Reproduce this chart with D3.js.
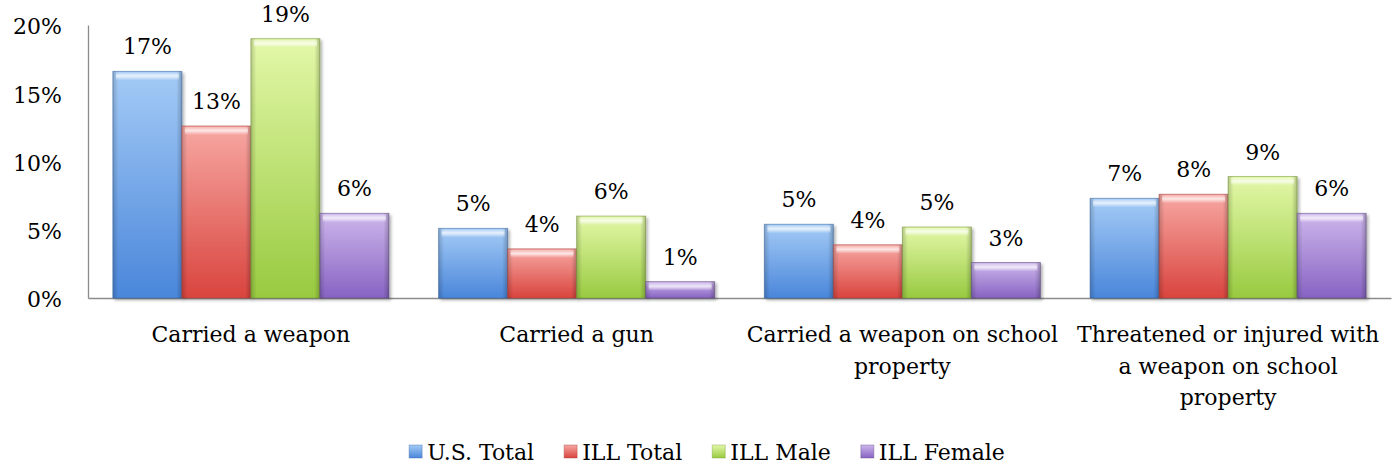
<html>
<head>
<meta charset="utf-8">
<title>weapon chart</title>
<style>
  body { margin: 0; background: #fff; }
  svg { display: block; }
  text { font-family: "DejaVu Serif", serif; fill: #000; }
</style>
<script src="https://cdnjs.cloudflare.com/ajax/libs/d3/7.8.5/d3.min.js"></script>
</head>
<body>
<svg></svg>
<script>
// data
const categories = ['Carried a weapon', 'Carried a gun', 'Carried a weapon on school property', 'Threatened or injured with a weapon on school property'];
const categoryLines = [
  ['Carried a weapon'],
  ['Carried a gun'],
  ['Carried a weapon on school', 'property'],
  ['Threatened or injured with', 'a weapon on school', 'property']
];
const series = ['U.S. Total', 'ILL Total', 'ILL Male', 'ILL Female'];
const usTotal = [16.6, 5.1, 5.4, 7.3];
const illTotal = [12.6, 3.6, 3.9, 7.6];
const illMale = [19.0, 6.0, 5.2, 8.9];
const illFemale = [6.2, 1.2, 2.6, 6.2];
const yTicks = [0, 5, 10, 15, 20];

const colors = {
  'U.S. Total': ['#a4cbf6', '#4a86da'],
  'ILL Total': ['#f7a7a2', '#d9443e'],
  'ILL Male': ['#e3f8a8', '#98ca40'],
  'ILL Female': ['#cdb6ec', '#8763c2']
};
const edge = { 'U.S. Total': '#3b6aa8', 'ILL Total': '#a8413c', 'ILL Male': '#77993a', 'ILL Female': '#5e4a82' };

const values = [usTotal, illTotal, illMale, illFemale];
const data = categories.map((c, i) => ({
  cat: c, i,
  values: series.map((s, j) => ({ key: s, value: values[j][i] }))
}));

const width = 1394, height = 465;
const margin = { left: 88, right: 3, top: 25 };
const baseY = 298;

const svg = d3.select('svg').attr('width', width).attr('height', height);
const defs = svg.append('defs');

series.forEach((s, j) => {
  const g = defs.append('linearGradient').attr('id', 'v' + j).attr('x1', 0).attr('y1', 0).attr('x2', 0).attr('y2', 1);
  g.append('stop').attr('offset', '0%').attr('stop-color', colors[s][0]);
  g.append('stop').attr('offset', '100%').attr('stop-color', colors[s][1]);
});
const hg = defs.append('linearGradient').attr('id', 'hEdge').attr('x1', 0).attr('y1', 0).attr('x2', 1).attr('y2', 0);
hg.append('stop').attr('offset', '0%').attr('stop-color', '#000').attr('stop-opacity', 0.18);
hg.append('stop').attr('offset', '8%').attr('stop-color', '#000').attr('stop-opacity', 0.0);
hg.append('stop').attr('offset', '92%').attr('stop-color', '#000').attr('stop-opacity', 0.0);
hg.append('stop').attr('offset', '100%').attr('stop-color', '#000').attr('stop-opacity', 0.22);
const tg = defs.append('linearGradient').attr('id', 'topHi').attr('x1', 0).attr('y1', 0).attr('x2', 0).attr('y2', 1);
tg.append('stop').attr('offset', '0%').attr('stop-color', '#fff').attr('stop-opacity', 0.2);
tg.append('stop').attr('offset', '45%').attr('stop-color', '#fff').attr('stop-opacity', 0.75);
tg.append('stop').attr('offset', '100%').attr('stop-color', '#fff').attr('stop-opacity', 0);
const sh = defs.append('filter').attr('id', 'shadow').attr('x', '-10%').attr('y', '-10%').attr('width', '130%').attr('height', '130%');
sh.append('feDropShadow').attr('dx', 2).attr('dy', 2).attr('stdDeviation', 1.5).attr('flood-color', '#000').attr('flood-opacity', 0.3);

const x0 = d3.scaleBand().domain(categories).range([margin.left, width - margin.right]).padding(0);
const x1 = d3.scaleBand().domain(series).range([0, x0.bandwidth()]).paddingInner(0).paddingOuter(0.36);
const y = d3.scaleLinear().domain([0, 20]).range([baseY, margin.top]);

// axes
const yAxis = svg.append('g').attr('transform', `translate(${margin.left},0)`)
  .call(d3.axisLeft(y).tickValues(yTicks).tickFormat(d => d + '%').tickSize(0).tickPadding(26));
yAxis.select('.domain').attr('stroke', '#8c8c8c').attr('stroke-width', 1.3);
yAxis.selectAll('text').style('font-size', '22px').attr('dy', '0.4em');

const xAxis = svg.append('g').attr('transform', `translate(0,${baseY})`)
  .call(d3.axisBottom(x0).tickSize(0).tickFormat(''));
xAxis.select('.domain').attr('stroke', '#8c8c8c').attr('stroke-width', 1.3);

// category labels
const lab = svg.append('g').selectAll('text').data(data).enter().append('text')
  .attr('x', d => x0(d.cat) + x0.bandwidth() / 2)
  .attr('y', 342)
  .attr('text-anchor', 'middle')
  .style('font-size', '22px');
lab.selectAll('tspan').data(d => categoryLines[d.i].map(t => ({ t, x: x0(d.cat) + x0.bandwidth() / 2 })))
  .enter().append('tspan')
  .attr('x', d => d.x)
  .attr('dy', (d, k) => k === 0 ? 0 : 31.5)
  .text(d => d.t);

// bars
const groups = svg.selectAll('.group').data(data).enter().append('g')
  .attr('class', 'group')
  .attr('transform', d => `translate(${x0(d.cat)},0)`);

const bar = groups.selectAll('.bar').data(d => d.values).enter().append('g').attr('class', 'bar');
bar.append('rect')
  .attr('x', d => x1(d.key))
  .attr('y', d => y(d.value))
  .attr('width', x1.bandwidth())
  .attr('height', d => baseY - y(d.value))
  .attr('fill', d => `url(#v${series.indexOf(d.key)})`)
  .attr('stroke', d => edge[d.key])
  .attr('stroke-opacity', 0.55)
  .attr('filter', 'url(#shadow)');
bar.append('rect')
  .attr('x', d => x1(d.key))
  .attr('y', d => y(d.value))
  .attr('width', x1.bandwidth())
  .attr('height', d => baseY - y(d.value))
  .attr('fill', 'url(#hEdge)');
bar.append('rect')
  .attr('x', d => x1(d.key) + 3)
  .attr('y', d => y(d.value) + 1)
  .attr('width', x1.bandwidth() - 6)
  .attr('height', d => Math.min(8, baseY - y(d.value) - 2))
  .attr('fill', 'url(#topHi)');

bar.append('text')
  .attr('x', d => x1(d.key) + x1.bandwidth() / 2)
  .attr('y', d => y(d.value) - 17)
  .attr('text-anchor', 'middle')
  .style('font-size', '22px')
  .text(d => Math.round(d.value) + '%');

// legend
const legend = svg.append('g').attr('transform', 'translate(0,452)');
const items = legend.selectAll('g').data(series).enter().append('g');
items.append('rect')
  .attr('width', 13).attr('height', 13).attr('y', -7)
  .attr('fill', (d, j) => `url(#v${j})`)
  .attr('stroke', d => edge[d]).attr('stroke-opacity', 0.4);
items.append('text')
  .attr('x', 18).attr('y', 0).attr('dy', '0.35em')
  .style('font-size', '22px')
  .text(d => d);
const widths = [];
items.each(function() { widths.push(this.getBBox().width); });
const gap = 30;
const total = d3.sum(widths) + gap * (widths.length - 1);
let pos = 707 - total / 2;
items.attr('transform', (d, j) => {
  const t = `translate(${pos},0)`;
  pos += widths[j] + gap;
  return t;
});
</script>
</body>
</html>
